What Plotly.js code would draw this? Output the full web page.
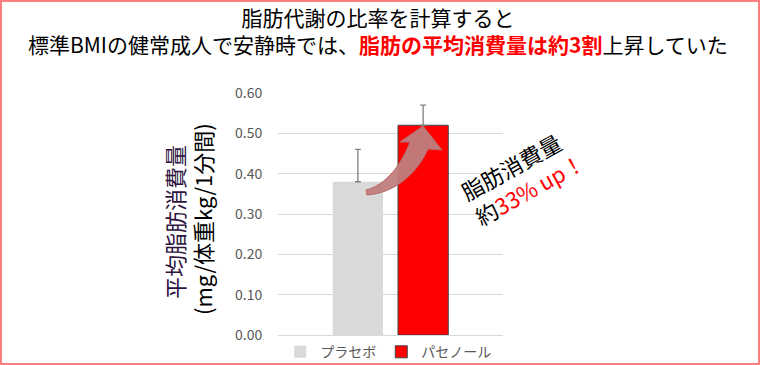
<!DOCTYPE html>
<html>
<head>
<meta charset="utf-8">
<script src="https://cdn.plot.ly/plotly-3.0.1.min.js"></script>
<style>
  html, body { margin: 0; padding: 0; background: #fff; }
  #wrap { position: relative; width: 760px; height: 365px; }
  #chart { width: 760px; height: 365px; }
  #border { position: absolute; left: 0; top: 0; width: 760px; height: 365px; box-sizing: border-box; border: 2px solid #ff7f7f; pointer-events: none; }
</style>
</head>
<body>
<div id="wrap"><div id="chart"></div><div id="border"></div></div>
<script>
// ---- data ----
const categories = ['安静時'];
const seriesNames = ['プラセボ', 'パセノール'];
const placeboValues = [0.38];
const placeboErrors = [0.08];
const pasenolValues = [0.52];
const pasenolErrors = [0.05];
const yTickVals = [0, 0.1, 0.2, 0.3, 0.4, 0.5, 0.6];

const FONT = '"Noto Sans CJK JP", "Noto Sans", sans-serif';

// plot-area geometry (pixels) for decorative shapes/annotations
const L = 278, R = 503, T = 93, B = 335;
const W = 760, H = 365;
const pxX = x => (x - L) / (R - L);
const pxY = y => (B - y) / (B - T);
const pt = (x, y) => pxX(x).toFixed(4) + ',' + pxY(y).toFixed(4);

const traces = [
  {
    type: 'bar', name: seriesNames[0], x: categories, y: placeboValues,
    marker: { color: '#d9d9d9', line: { width: 0 } },
    error_y: { type: 'data', array: placeboErrors, arrayminus: [0], symmetric: false,
               color: '#808080', thickness: 1.3, width: 3 },
    hoverinfo: 'none'
  },
  {
    type: 'bar', name: seriesNames[1], x: categories, y: pasenolValues,
    marker: { color: '#ff0000', line: { color: '#404040', width: 1 } },
    error_y: { type: 'data', array: pasenolErrors, arrayminus: [0], symmetric: false,
               color: '#808080', thickness: 1.3, width: 3 },
    hoverinfo: 'none'
  }
];

const arrowPath =
  'M ' + pt(367, 195) +
  ' C ' + pt(396, 193) + ' ' + pt(418, 172) + ' ' + pt(428, 149) +
  ' L ' + pt(442, 150) +
  ' L ' + pt(423, 126) +
  ' L ' + pt(400, 142) +
  ' L ' + pt(410, 142) +
  ' C ' + pt(401, 165) + ' ' + pt(386, 185) + ' ' + pt(366, 190) +
  ' Z';

const layout = {
  width: W, height: H,
  margin: { l: L, r: W - R, t: T, b: H - B, pad: 0, autoexpand: false },
  paper_bgcolor: '#ffffff', plot_bgcolor: '#ffffff',
  font: { family: FONT, color: '#595959' },
  showlegend: true,
  barmode: 'group',
  bargap: 0.42,
  bargroupgap: 0.23,
  xaxis: { type: 'category', showticklabels: false, showgrid: false, zeroline: false,
           showline: false, ticks: '', fixedrange: true },
  yaxis: { range: [0, 0.6], tickvals: yTickVals, tickformat: '.2f',
           tickfont: { family: FONT, size: 14, color: '#595959' },
           showgrid: true, gridcolor: '#d9d9d9', gridwidth: 1,
           zeroline: true, zerolinecolor: '#d9d9d9', zerolinewidth: 1,
           showline: false, ticks: 'outside', ticklen: 12, tickcolor: 'rgba(0,0,0,0)' },
  legend: { orientation: 'h', x: 0.49, xanchor: 'center', y: -0.005, yanchor: 'top',
            font: { family: FONT, size: 14, color: '#595959' }, itemwidth: 30,
            bgcolor: 'rgba(0,0,0,0)' },
  shapes: [
    { type: 'path', xref: 'paper', yref: 'paper', path: arrowPath,
      fillcolor: 'rgba(192,126,126,0.95)', line: { color: '#b56a6a', width: 1 }, layer: 'above' }
  ],
  annotations: [
    { xref: 'paper', yref: 'paper', x: pxX(378), y: pxY(31), xanchor: 'center', yanchor: 'middle',
      showarrow: false, align: 'center', borderpad: 0,
      text: '脂肪代謝の比率を計算すると<br>標準BMIの健常成人で安静時では、<b><span style="color:#ff0000">脂肪の平均消費量は約3割</span></b>上昇していた',
      font: { family: FONT, size: 21, color: '#000000' } },
    { xref: 'paper', yref: 'paper', x: pxX(174), y: pxY(222), xanchor: 'center', yanchor: 'middle',
      showarrow: false, textangle: -90, text: '平均脂肪消費量',
      font: { family: FONT, size: 22, color: '#2e1440' } },
    { xref: 'paper', yref: 'paper', x: pxX(202), y: pxY(219), xanchor: 'center', yanchor: 'middle',
      showarrow: false, textangle: -90, text: '(mg/体重kg/1分間)',
      font: { family: FONT, size: 22, color: '#000000' } },
    { xref: 'paper', yref: 'paper', x: pxX(522), y: pxY(176), xanchor: 'center', yanchor: 'middle',
      showarrow: false, textangle: -29, align: 'left',
      text: '脂肪消費量<br>約<span style="color:#ff0000">33% up！</span>',
      font: { family: FONT, size: 22, color: '#000000' } }
  ]
};

Plotly.newPlot('chart', traces, layout, { staticPlot: true, displayModeBar: false });
</script>
</body>
</html>
